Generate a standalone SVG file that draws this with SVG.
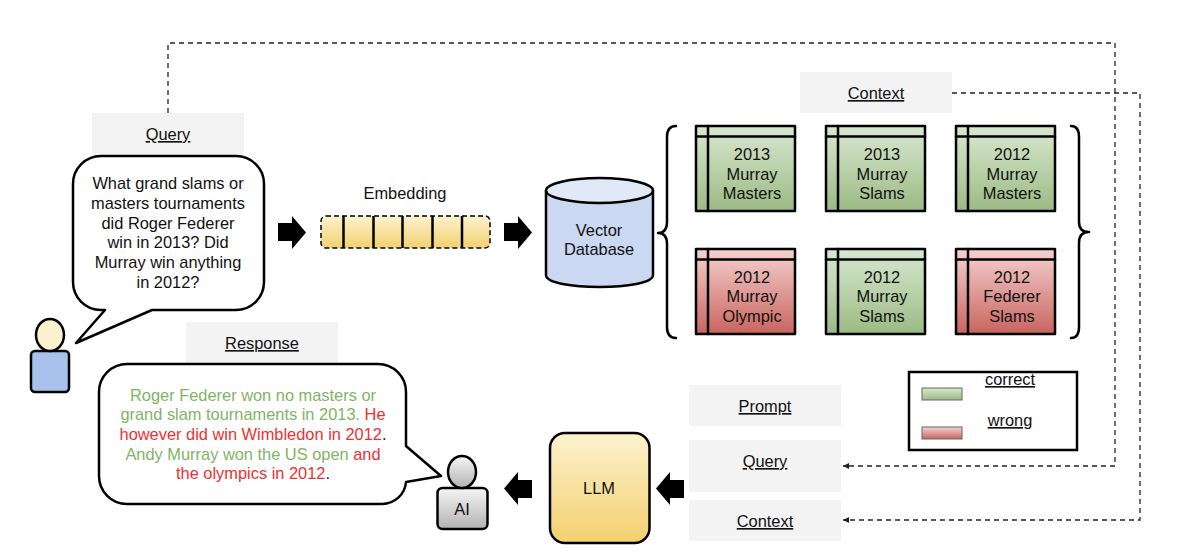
<svg xmlns="http://www.w3.org/2000/svg" width="1184" height="554" viewBox="0 0 1184 554">
<style>
text{font-family:"Liberation Sans",Arial,sans-serif;font-size:16.4px;fill:#111;text-anchor:middle}
.u{text-decoration:underline}
.lab{fill:#f3f3f3}
.s{stroke:#000;stroke-width:2.500;stroke-linejoin:round;stroke-linecap:round}
.f{fill:none}
.d{fill:none;stroke:#222;stroke-width:1.300;stroke-dasharray:5 4}
.g{fill:#82b366}.r{fill:#f03030}
</style>
<defs>
<linearGradient id="gg" x1="0" y1="0" x2="0" y2="1"><stop offset="0" stop-color="#d8e8d0"/><stop offset="1" stop-color="#9cba84"/></linearGradient>
<linearGradient id="rg" x1="0" y1="0" x2="0" y2="1"><stop offset="0" stop-color="#f5d2d0"/><stop offset="1" stop-color="#c9645f"/></linearGradient>
<linearGradient id="yg" x1="0" y1="0" x2="0" y2="1"><stop offset="0" stop-color="#fdf2d0"/><stop offset="1" stop-color="#f3d16e"/></linearGradient>
<linearGradient id="ag" x1="0" y1="0" x2="0" y2="1"><stop offset="0" stop-color="#f5f5f5"/><stop offset="1" stop-color="#b3b3b3"/></linearGradient>
<marker id="ah" markerWidth="8" markerHeight="8" refX="6" refY="3" orient="auto" markerUnits="userSpaceOnUse"><path d="M0 0L6 3L0 6Z" fill="#222"/></marker>
<path id="blk" d="M0 7H14V0L28 16.500L14 33V25H0Z" fill="#000"/>
<g id="tb"><rect x="1" y="1" width="99" height="85" class="s"/><path d="M1 11.500H100M13 1V86" class="s f"/></g>
</defs>

<g id="connectors">
<path class="d" d="M168 113V43H1115V466H843" marker-end="url(#ah)"/>
<path class="d" d="M952 93H1140V520H843" marker-end="url(#ah)"/>
<use href="#blk" x="278" y="216"/>
<use href="#blk" x="504" y="216"/>
<use href="#blk" transform="translate(532 505) rotate(180)"/>
<use href="#blk" transform="translate(684 505) rotate(180)"/>
</g>

<g id="query-label"><rect class="lab" x="92" y="113" width="152" height="42"/><text class="u" x="168" y="140">Query</text></g>
<g id="query-bubble">
<path class="s" fill="#fff" d="M101 156H236A28 28 0 0 1 264 184V282A28 28 0 0 1 236 310H152L76 343L105 310H101A28 28 0 0 1 73 282V184A28 28 0 0 1 101 156Z"/>
<text x="168" y="189">What grand slams or</text>
<text x="168" y="209">masters tournaments</text>
<text x="168" y="229">did Roger Federer</text>
<text x="168" y="248">win in 2013? Did</text>
<text x="168" y="268">Murray win anything</text>
<text x="168" y="288">in 2012?</text>
</g>
<g id="user">
<rect class="s" fill="#a9c2ec" x="31" y="351" width="38" height="41" rx="4"/>
<ellipse class="s" fill="#fbf1cf" cx="50" cy="335" rx="14" ry="16"/>
</g>
<g id="embedding">
<text x="405" y="199">Embedding</text>
<rect x="321" y="216" width="169" height="32" rx="5" fill="url(#yg)" stroke="#000" stroke-width="1.500" stroke-dasharray="5 3"/>
<path class="s f" d="M343.500 216V248M373.500 216V248M402.500 216V248M432.500 216V248M462 216V248" style="stroke-linecap:butt"/>
</g>
<g id="vector-db">
<path class="s" fill="#cad8f2" d="M546 190.500V275C546 291 653 291 653 275V190.500Z"/>
<ellipse class="s" fill="#e1e8f7" cx="599.500" cy="190.500" rx="53.500" ry="12.500"/>
<text x="599" y="236">Vector</text><text x="599" y="255">Database</text>
</g>
<g id="context-label"><rect class="lab" x="800" y="72" width="152" height="41"/><text class="u" x="876" y="99">Context</text></g>
<path id="brace-left" class="s f" d="M676 126Q667 126 667 137V222Q667 233 658 233Q667 233 667 244V327Q667 338 676 338"/>
<path id="brace-right" class="s f" d="M1071 126Q1079 126 1079 137V222Q1079 232 1089 232Q1079 232 1079 243V327Q1079 338 1071 338"/>

<g id="doc1"><use href="#tb" x="695" y="125" fill="url(#gg)"/><text x="752" y="160">2013</text><text x="752" y="180">Murray</text><text x="752" y="199">Masters</text></g>
<g id="doc2"><use href="#tb" x="825" y="125" fill="url(#gg)"/><text x="882" y="160">2013</text><text x="882" y="180">Murray</text><text x="882" y="199">Slams</text></g>
<g id="doc3"><use href="#tb" x="955" y="125" fill="url(#gg)"/><text x="1012" y="160">2012</text><text x="1012" y="180">Murray</text><text x="1012" y="199">Masters</text></g>
<g id="doc4"><use href="#tb" x="695" y="248" fill="url(#rg)"/><text x="752" y="283">2012</text><text x="752" y="302">Murray</text><text x="752" y="322">Olympic</text></g>
<g id="doc5"><use href="#tb" x="825" y="248" fill="url(#gg)"/><text x="882" y="283">2012</text><text x="882" y="302">Murray</text><text x="882" y="322">Slams</text></g>
<g id="doc6"><use href="#tb" x="955" y="248" fill="url(#rg)"/><text x="1012" y="283">2012</text><text x="1012" y="302">Federer</text><text x="1012" y="322">Slams</text></g>

<g id="legend">
<rect x="909" y="372" width="168" height="78" fill="#fff" stroke="#000" stroke-width="2.500"/>
<rect x="922" y="388" width="40" height="12" fill="url(#gg)" stroke="#666"/>
<rect x="922" y="427" width="40" height="12" fill="url(#rg)" stroke="#666"/>
<text class="u" x="1010" y="385">correct</text>
<text class="u" x="1010" y="426">wrong</text>
</g>

<g id="response-label"><rect class="lab" x="186" y="322" width="152" height="41"/><text class="u" x="262" y="349">Response</text></g>
<g id="response-bubble">
<path class="s" fill="#fff" d="M127 364H378A28 28 0 0 1 406 392V446L441 476L406 482A24 24 0 0 1 382 504H127A28 28 0 0 1 99 476V392A28 28 0 0 1 127 364Z"/>
<text x="253" y="401" class="g">Roger Federer won no masters or</text>
<text x="253" y="420"><tspan class="g">grand slam tournaments in 2013. </tspan><tspan class="r">He</tspan></text>
<text x="253" y="440"><tspan class="r">however did win Wimbledon in 2012</tspan>.</text>
<text x="253" y="460"><tspan class="g">Andy Murray won the US open </tspan><tspan class="r">and</tspan></text>
<text x="253" y="479"><tspan class="r">the olympics in 2012</tspan>.</text>
</g>
<g id="ai">
<rect class="s" fill="url(#ag)" x="437.500" y="488" width="50" height="41" rx="5"/>
<ellipse class="s" fill="url(#ag)" cx="462" cy="472" rx="14" ry="16"/>
<text x="462" y="515">AI</text>
</g>
<g id="llm"><rect class="s" fill="url(#yg)" x="550" y="433" width="99.500" height="110" rx="15"/><text x="599" y="494">LLM</text></g>
<g id="prompt"><rect class="lab" x="689" y="385" width="152" height="41"/><text class="u" x="765" y="412">Prompt</text></g>
<g id="query2"><rect class="lab" x="689" y="440" width="152" height="52"/><text class="u" x="765" y="467">Query</text></g>
<g id="context2"><rect class="lab" x="689" y="500" width="152" height="41"/><text class="u" x="765" y="527">Context</text></g>
</svg>
